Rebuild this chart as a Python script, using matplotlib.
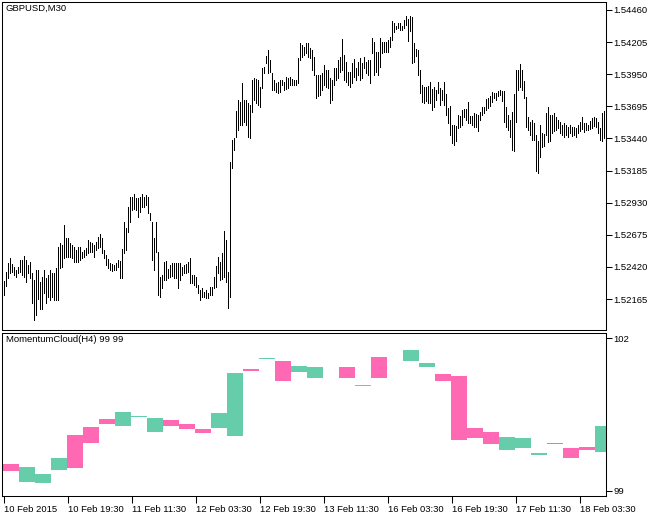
import numpy as np
import matplotlib.pyplot as plt

plt.rcParams['font.family'] = ['Liberation Sans', 'DejaVu Sans']

# GBPUSD M30 bars (high / low), 10 Feb 2015 03:30 onward
high = [
    1.52307, 1.52381, 1.52448, 1.52487, 1.52440, 1.52421, 1.52395, 1.52421, 1.52474, 1.52474,
    1.52506, 1.52474, 1.52434, 1.52461, 1.52368, 1.52315, 1.52395, 1.52395, 1.52302, 1.52342,
    1.52395, 1.52328, 1.52355, 1.52395, 1.52368, 1.52368, 1.52408, 1.52580, 1.52607, 1.52593,
    1.52752, 1.52646, 1.52646, 1.52607, 1.52593, 1.52580, 1.52554, 1.52580, 1.52580, 1.52540,
    1.52554, 1.52567, 1.52633, 1.52620, 1.52607, 1.52593, 1.52620, 1.52660, 1.52681, 1.52646,
    1.52554, 1.52514, 1.52482, 1.52448, 1.52440, 1.52435, 1.52448, 1.52474, 1.52466, 1.52562,
    1.52779, 1.52726, 1.52898, 1.52977, 1.52977, 1.52996, 1.52964, 1.52964, 1.52977, 1.52996,
    1.52977, 1.52991, 1.52977, 1.52845, 1.52779, 1.52646, 1.52779, 1.52541, 1.52342, 1.52355,
    1.52461, 1.52466, 1.52403, 1.52435, 1.52453, 1.52453, 1.52453, 1.52453, 1.52453, 1.52421,
    1.52435, 1.52440, 1.52461, 1.52493, 1.52355, 1.52355, 1.52342, 1.52276, 1.52236, 1.52249,
    1.52222, 1.52236, 1.52209, 1.52262, 1.52262, 1.52342, 1.52426, 1.52500, 1.52461, 1.52527,
    1.52707, 1.52633, 1.52381, 1.53255, 1.53427, 1.53440, 1.53660, 1.53745, 1.53731, 1.53877,
    1.53745, 1.53745, 1.53718, 1.53705, 1.53903, 1.53917, 1.53909, 1.53903, 1.53850, 1.53996,
    1.54009, 1.54094, 1.54142, 1.54062, 1.53956, 1.53903, 1.53877, 1.53890, 1.53903, 1.53903,
    1.53890, 1.53930, 1.53917, 1.53930, 1.53909, 1.53903, 1.53903, 1.54075, 1.54195, 1.54181,
    1.54168, 1.54201, 1.54195, 1.54156, 1.54142, 1.54089, 1.53944, 1.53944, 1.53944, 1.53957,
    1.54023, 1.53984, 1.53984, 1.53917, 1.53904, 1.53997, 1.53997, 1.54063, 1.54089, 1.54227,
    1.54103, 1.54050, 1.53970, 1.53970, 1.54036, 1.54068, 1.53997, 1.54050, 1.54076, 1.54036,
    1.54089, 1.54050, 1.54063, 1.54063, 1.54235, 1.54209, 1.54129, 1.54129, 1.54235, 1.54209,
    1.54209, 1.54209, 1.54222, 1.54243, 1.54375, 1.54354, 1.54333, 1.54359, 1.54359, 1.54333,
    1.54381, 1.54412, 1.54386, 1.54412, 1.54407, 1.54195, 1.54148, 1.54142, 1.53984, 1.53864,
    1.53846, 1.53851, 1.53856, 1.53891, 1.53830, 1.53846, 1.53825, 1.53891, 1.53838, 1.53825,
    1.53891, 1.53793, 1.53679, 1.53698, 1.53547, 1.53547, 1.53539, 1.53626, 1.53618, 1.53666,
    1.53671, 1.53671, 1.53732, 1.53618, 1.53618, 1.53639, 1.53634, 1.53626, 1.53653, 1.53692,
    1.53692, 1.53751, 1.53759, 1.53777, 1.53811, 1.53804, 1.53804, 1.53819, 1.53825, 1.53816,
    1.53816, 1.53692, 1.53626, 1.53586, 1.53652, 1.53790, 1.53983, 1.53983, 1.54028, 1.53983,
    1.53896, 1.53771, 1.53612, 1.53573, 1.53586, 1.53559, 1.53467, 1.53419, 1.53546, 1.53480,
    1.53472, 1.53639, 1.53692, 1.53626, 1.53626, 1.53639, 1.53612, 1.53586, 1.53573, 1.53546,
    1.53559, 1.53546, 1.53533, 1.53546, 1.53533, 1.53533, 1.53525, 1.53546, 1.53573, 1.53612,
    1.53559, 1.53559, 1.53546, 1.53578, 1.53599, 1.53612, 1.53604, 1.53573, 1.53525, 1.53639,
    1.53657,
]
low = [
    1.52196, 1.52267, 1.52328, 1.52368, 1.52381, 1.52355, 1.52342, 1.52368, 1.52381, 1.52355,
    1.52342, 1.52302, 1.52368, 1.52328, 1.52130, 1.51997, 1.52037, 1.52169, 1.52082, 1.52082,
    1.52209, 1.52130, 1.52183, 1.52156, 1.52183, 1.52156, 1.52156, 1.52156, 1.52408, 1.52421,
    1.52487, 1.52501, 1.52501, 1.52501, 1.52487, 1.52461, 1.52461, 1.52461, 1.52474, 1.52487,
    1.52501, 1.52514, 1.52527, 1.52540, 1.52540, 1.52501, 1.52554, 1.52567, 1.52580, 1.52527,
    1.52487, 1.52435, 1.52408, 1.52395, 1.52387, 1.52395, 1.52395, 1.52421, 1.52329, 1.52329,
    1.52527, 1.52554, 1.52699, 1.52779, 1.52871, 1.52879, 1.52871, 1.52819, 1.52858, 1.52898,
    1.52898, 1.52911, 1.52845, 1.52792, 1.52474, 1.52395, 1.52541, 1.52196, 1.52183, 1.52249,
    1.52316, 1.52316, 1.52329, 1.52342, 1.52350, 1.52329, 1.52329, 1.52249, 1.52316, 1.52355,
    1.52369, 1.52369, 1.52382, 1.52289, 1.52289, 1.52276, 1.52263, 1.52210, 1.52157, 1.52183,
    1.52183, 1.52170, 1.52170, 1.52196, 1.52196, 1.52249, 1.52262, 1.52368, 1.52315, 1.52320,
    1.52342, 1.52302, 1.52090, 1.52183, 1.53202, 1.53348, 1.53453, 1.53506, 1.53546, 1.53546,
    1.53572, 1.53546, 1.53453, 1.53440, 1.53652, 1.53745, 1.53718, 1.53705, 1.53692, 1.53837,
    1.53956, 1.54036, 1.53956, 1.53969, 1.53824, 1.53824, 1.53811, 1.53797, 1.53811, 1.53864,
    1.53824, 1.53829, 1.53837, 1.53864, 1.53864, 1.53864, 1.53864, 1.53877, 1.54062, 1.54089,
    1.54102, 1.54121, 1.54089, 1.54076, 1.53984, 1.53944, 1.53759, 1.53777, 1.53785, 1.53825,
    1.53864, 1.53851, 1.53838, 1.53719, 1.53745, 1.53864, 1.53904, 1.53917, 1.53970, 1.53984,
    1.53904, 1.53891, 1.53864, 1.53851, 1.53878, 1.53931, 1.53904, 1.53944, 1.53904, 1.53917,
    1.53997, 1.53957, 1.53944, 1.53878, 1.54116, 1.53944, 1.53970, 1.53944, 1.54010, 1.54116,
    1.54129, 1.54129, 1.54129, 1.54169, 1.54222, 1.54288, 1.54306, 1.54314, 1.54301, 1.54301,
    1.54314, 1.54341, 1.54216, 1.54296, 1.54036, 1.54050, 1.54095, 1.53944, 1.53798, 1.53732,
    1.53719, 1.53740, 1.53724, 1.53719, 1.53666, 1.53687, 1.53745, 1.53798, 1.53706, 1.53745,
    1.53706, 1.53626, 1.53560, 1.53467, 1.53401, 1.53388, 1.53422, 1.53520, 1.53534, 1.53547,
    1.53613, 1.53586, 1.53560, 1.53560, 1.53547, 1.53528, 1.53534, 1.53502, 1.53586, 1.53626,
    1.53645, 1.53666, 1.53679, 1.53698, 1.53732, 1.53759, 1.53745, 1.53777, 1.53785, 1.53737,
    1.53573, 1.53533, 1.53506, 1.53453, 1.53348, 1.53340, 1.53573, 1.53824, 1.53851, 1.53824,
    1.53758, 1.53533, 1.53506, 1.53467, 1.53427, 1.53427, 1.53181, 1.53162, 1.53295, 1.53374,
    1.53382, 1.53467, 1.53408, 1.53419, 1.53480, 1.53498, 1.53506, 1.53525, 1.53480, 1.53467,
    1.53453, 1.53467, 1.53453, 1.53480, 1.53461, 1.53467, 1.53453, 1.53480, 1.53498, 1.53514,
    1.53488, 1.53506, 1.53506, 1.53514, 1.53525, 1.53541, 1.53533, 1.53480, 1.53427, 1.53419,
    1.53440,
]
price_ticks = [1.52165, 1.52420, 1.52675, 1.52930, 1.53185,
               1.53440, 1.53695, 1.53950, 1.54205, 1.54460]

# MomentumCloud(H4): one block per H4 candle (8 bars of M30), nan = nothing drawn
cloud_hi = [99.52, 99.47, 99.33, 99.64, 100.09, 100.26, 100.40, 100.54, 100.46, 100.42,
            100.39, 100.32, 100.21, 100.52, 101.32, 101.40, 101.61, 101.54, 101.46, 101.44,
            np.nan, 101.44, 101.07, 101.62, np.nan, 101.77, 101.52, 101.30, 101.26, 100.225,
            100.15, 100.05, 100.03, 99.74, 99.93, 99.84, 99.85, 100.28]
cloud_lo = [99.39, 99.17, 99.15, 99.41, 99.45, 99.94, 100.31, 100.27, 100.44, 100.15,
            100.28, 100.21, 100.13, 100.24, 100.07, 101.35, 101.58, 101.16, 101.33, 101.21,
            np.nan, 101.21, 101.05, 101.21, np.nan, 101.54, 101.43, 101.15, 99.99, 100.035,
            99.92, 99.80, 99.84, 99.70, 99.91, 99.64, 99.80, 99.76]
cloud_up = [0, 1, 1, 1, 0, 0, 0, 1, 1, 1,
            0, 0, 0, 1, 1, 0, 1, 0, 1, 1,
            0, 0, 1, 0, 0, 1, 1, 0, 0, 0,
            0, 1, 1, 1, 0, 0, 0, 1]
cloud_ticks = [99, 102]

date_labels = ['10 Feb 2015', '10 Feb 19:30', '11 Feb 11:30', '12 Feb 03:30', '12 Feb 19:30',
               '13 Feb 11:30', '16 Feb 03:30', '16 Feb 19:30', '17 Feb 11:30', '18 Feb 03:30']
date_bars = [0, 32, 64, 96, 128, 160, 192, 224, 256, 288]

bars_per_block = 8
up_color = '#66cdaa'
down_color = '#ff69b4'
fs = 6.8

W, H = 659, 516
fig = plt.figure(figsize=(W / 100, H / 100), dpi=100)
fig.patch.set_facecolor('white')

ax1 = fig.add_axes([2 / W, (H - 330) / H, 604 / W, 328 / H])
ax2 = fig.add_axes([2 / W, (H - 495.5) / H, 604 / W, 162.5 / H])

n = len(high)
x = np.arange(n)

# price bars, 1 px wide
ax1.vlines(x, low, high, colors='black', linewidth=0.72, antialiased=False)
ax1.set_xlim(-1, n)
ax1.set_ylim(1.51919, 1.54523)
ax1.set_yticks(price_ticks)
ax1.set_yticklabels([f'{t:.5f}' for t in price_ticks])
ax1.set_xticks([])
ax1.text(0.006, 0.993, 'GBPUSD,M30', transform=ax1.transAxes, fontsize=fs,
         va='top', ha='left')

# cloud blocks
for k in range(len(cloud_hi)):
    if np.isnan(cloud_hi[k]):
        continue
    c = up_color if cloud_up[k] else down_color
    h = max(cloud_hi[k] - cloud_lo[k], 0.02)
    ax2.bar(k * bars_per_block - 0.5, h, width=bars_per_block, bottom=cloud_lo[k],
            align='edge', color=c, linewidth=0)
ax2.set_xlim(-1, n)
ax2.set_ylim(98.906, 102.10)
ax2.set_yticks(cloud_ticks)
ax2.set_yticklabels([str(t) for t in cloud_ticks])
ax2.set_xticks(date_bars)
ax2.set_xticklabels(date_labels)
for lab in ax2.get_xticklabels():
    lab.set_ha('left')
ax2.text(0.006, 0.985, 'MomentumCloud(H4) 99 99', transform=ax2.transAxes, fontsize=fs,
         va='top', ha='left')

for ax in (ax1, ax2):
    ax.set_facecolor('white')
    ax.yaxis.tick_right()
    ax.tick_params(axis='y', direction='out', length=4, width=0.75, pad=1.5,
                   labelsize=fs, colors='black')
    ax.tick_params(axis='x', direction='out', length=5, width=0.75, pad=1.5,
                   labelsize=fs, colors='black')
    for sp in ax.spines.values():
        sp.set_linewidth(0.75)
        sp.set_color('black')

fig.savefig('out.png', dpi=100, facecolor='white')
